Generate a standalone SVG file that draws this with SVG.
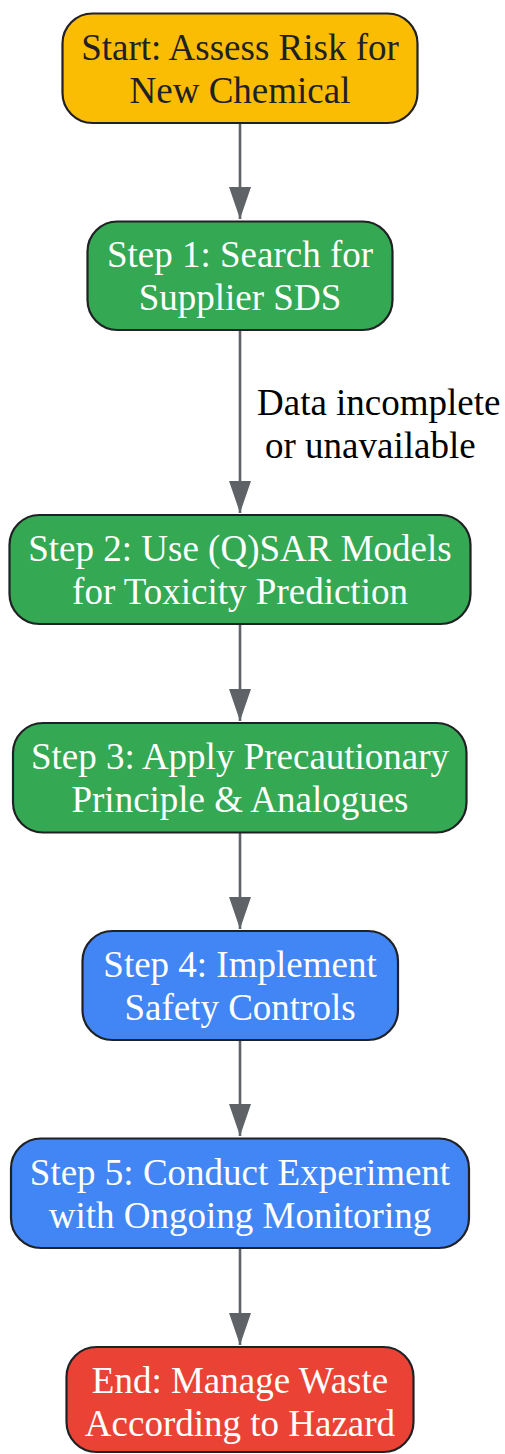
<svg xmlns="http://www.w3.org/2000/svg" width="505" height="1454" viewBox="0 0 505 1454">
<style>
.node rect{stroke:#202124;stroke-width:2.2}
.t{font-family:"Liberation Serif","Times New Roman",serif;font-size:37px;text-anchor:middle}
.w{fill:#ffffff}
.d{fill:#202124}
.edge{stroke:#5f6368;stroke-width:2.6;fill:none}
.lbl{font-family:"Liberation Serif","Times New Roman",serif;font-size:37px;fill:#000000}
</style>
<defs>
<marker id="ah" viewBox="0 0 32 22" refX="32" refY="11" markerWidth="32" markerHeight="22" orient="auto" markerUnits="userSpaceOnUse">
<path d="M0,0 L32,11 L0,22 z" fill="#5f6368"/>
</marker>
</defs>
<rect width="505" height="1454" fill="#ffffff"/>
<g id="edges">
<path class="edge" d="M240,123 L240,219" marker-end="url(#ah)"/>
<path class="edge" d="M240,330 L240,513" marker-end="url(#ah)"/>
<path class="edge" d="M240,624 L240,721" marker-end="url(#ah)"/>
<path class="edge" d="M240,833 L240,929" marker-end="url(#ah)"/>
<path class="edge" d="M240,1040 L240,1136" marker-end="url(#ah)"/>
<path class="edge" d="M240,1248 L240,1345" marker-end="url(#ah)"/>
<text class="lbl" x="257" y="415">Data incomplete</text>
<text class="lbl" x="265" y="458">or unavailable</text>
</g>
<g id="start" class="node">
<rect x="62.5" y="13.5" width="355" height="109.5" rx="30" fill="#FBBC04"/>
<text class="t d" x="240" y="60">Start: Assess Risk for</text>
<text class="t d" x="240" y="103">New Chemical</text>
</g>
<g id="step1" class="node">
<rect x="87.5" y="221.5" width="305" height="108.5" rx="30" fill="#34A853"/>
<text class="t w" x="240" y="267">Step 1: Search for</text>
<text class="t w" x="240" y="310">Supplier SDS</text>
</g>
<g id="step2" class="node">
<rect x="9.5" y="515" width="461" height="109" rx="30" fill="#34A853"/>
<text class="t w" x="240" y="561">Step 2: Use (Q)SAR Models</text>
<text class="t w" x="240" y="604">for Toxicity Prediction</text>
</g>
<g id="step3" class="node">
<rect x="13" y="723" width="453.5" height="109.5" rx="30" fill="#34A853"/>
<text class="t w" x="240" y="769">Step 3: Apply Precautionary</text>
<text class="t w" x="240" y="812">Principle &amp; Analogues</text>
</g>
<g id="step4" class="node">
<rect x="82.5" y="931" width="315.5" height="109" rx="30" fill="#4285F4"/>
<text class="t w" x="240" y="977">Step 4: Implement</text>
<text class="t w" x="240" y="1020">Safety Controls</text>
</g>
<g id="step5" class="node">
<rect x="11" y="1138.5" width="458" height="109.5" rx="30" fill="#4285F4"/>
<text class="t w" x="240" y="1185">Step 5: Conduct Experiment</text>
<text class="t w" x="240" y="1228">with Ongoing Monitoring</text>
</g>
<g id="end" class="node">
<rect x="66.5" y="1347" width="347" height="105" rx="30" fill="#EA4335"/>
<text class="t w" x="240" y="1393">End: Manage Waste</text>
<text class="t w" x="240" y="1436">According to Hazard</text>
</g>
</svg>
